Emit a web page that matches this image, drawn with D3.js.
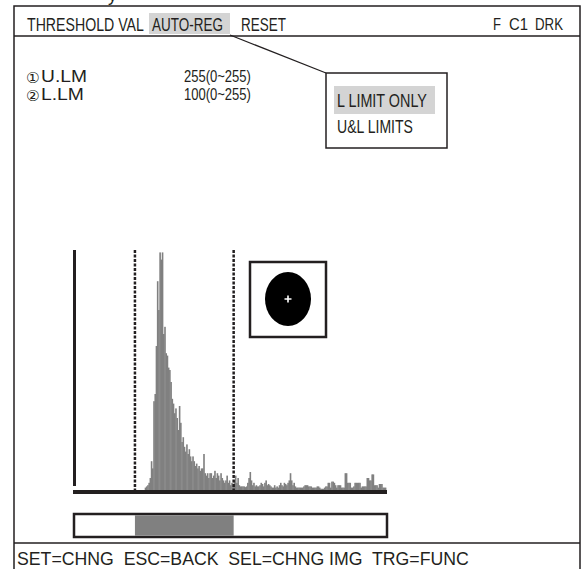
<!DOCTYPE html>
<html>
<head>
<meta charset="utf-8">
<script src="https://cdn.jsdelivr.net/npm/d3@7/dist/d3.min.js"></script>
<style>
html,body{margin:0;padding:0;background:#fff;}
svg{display:block;}
text{font-family:"Liberation Sans",Arial,sans-serif;fill:#231f20;white-space:pre;}
</style>
</head>
<body>
<svg id="chart" width="586" height="569"></svg>
<script>
// ---- data ----
const histStartLevel = 58;
const histCounts = [
  1, 1.5, 2, 3, 5, 12, 9, 37, 40, 60,
  87, 75, 99, 96, 99, 65, 68, 57, 56, 51,
  50, 45, 38, 36, 32, 34, 30, 25, 35, 28,
  20, 22, 18, 16, 19, 15, 17, 14, 12, 14,
  12, 10, 11, 9, 10, 8, 9, 9, 15, 7,
  6, 7, 5, 7, 7, 5, 6, 8, 5, 7,
  6, 4, 7, 5, 4, 3, 4, 6, 3, 4,
  2, 3, 2, 4, 6, 3, 5, 2, 1.5, 1.5,
  1.5, 1.5, 1.2, 1.5, 3, 5, 7.5, 4, 2, 3,
  1.5, 2, 1.5, 1.5, 2, 3, 2.5, 1.5, 3, 4,
  2, 2.5, 2, 1.5, 1, 1, 2, 1, 1.5, 1,
  2, 3, 2, 1.5, 3, 2.5, 2, 3, 4, 7,
  4, 2, 3, 1.5, 1, 1, 1, 1, 1, 1,
  1.5, 2, 2, 2, 1.5, 1.5, 1.5, 1, 1, 1,
  1, 1.5, 1.5, 1, 0.5, 0.5, 0.5, 1, 1.5, 1.5,
  3, 3, 1, 3.5, 3.5, 3, 2, 1, 2, 2,
  2, 1, 1, 1, 7, 7, 3, 3, 3, 1,
  1, 1.5, 3, 3, 3, 3, 3, 1, 1.5, 1.5,
  1.5, 1.5, 5, 5, 4, 4, 6.5, 6.5, 2, 2,
  2, 1, 2.5, 2.5, 2.5, 1, 1, 1
];
const thresholdLevels = [50, 131];
const menuItems = ["THRESHOLD VAL", "AUTO-REG", "RESET"];
const statusItems = ["F", "C1", "DRK"];
const paramMarks = ["\u2460", "\u2461"];
const paramLabels = ["U.LM", "L.LM"];
const paramValues = ["255(0~255)", "100(0~255)"];
const popupItems = ["L LIMIT ONLY", "U&L LIMITS"];
const footerText = "SET=CHNG  ESC=BACK  SEL=CHNG IMG  TRG=FUNC";

// ---- drawing ----
const svg = d3.select("#chart");
const ink = "#231f20";
const gray = "#808080";
const light = "#d4d4d4";

// place a text and squeeze it horizontally to a target width
function fitText(str, px, py, w, size, cls) {
  const t = svg.append("text").attr("class", cls || null).attr("font-size", size).text(str);
  const nat = t.node().getComputedTextLength();
  const s = nat > 0 ? w / nat : 1;
  t.attr("transform", `translate(${px},${py}) scale(${s},1)`);
  return t;
}

// cut-off caption fragment above the frame
svg.append("text").attr("x", 108).attr("y", 1).attr("font-size", 18).text("y");

// frame
svg.append("rect").attr("x", 14).attr("y", 6).attr("width", 566).attr("height", 580)
  .attr("fill", "none").attr("stroke", ink).attr("stroke-width", 1.5);
svg.append("line").attr("x1", 14).attr("x2", 580).attr("y1", 36).attr("y2", 36)
  .attr("stroke", ink).attr("stroke-width", 1.5);
svg.append("line").attr("x1", 14).attr("x2", 580).attr("y1", 543).attr("y2", 543)
  .attr("stroke", ink).attr("stroke-width", 1.5);

// header menu
svg.append("rect").attr("x", 149).attr("y", 13).attr("width", 81).attr("height", 21).attr("fill", light);
const menuPos = [[27, 117], [152, 71], [241, 45]];
menuItems.forEach((d, i) => fitText(d, menuPos[i][0], 31, menuPos[i][1], 17.5));
const statusPos = [[493, 8], [509, 19], [535, 28]];
statusItems.forEach((d, i) => fitText(d, statusPos[i][0], 29.5, statusPos[i][1], 17));

// parameters
svg.selectAll("text.pmark").data(paramMarks).join("text").attr("class", "pmark")
  .attr("x", 26).attr("y", (d, i) => 82.5 + i * 18)
  .style("font-family", "'DejaVu Sans','Noto Sans CJK JP',sans-serif")
  .attr("font-size", 15.3).text(d => d);
paramLabels.forEach((d, i) => fitText(d, 41, 82 + i * 18, i === 0 ? 46 : 43, 17));
paramValues.forEach((d, i) => fitText(d, 184, 82 + i * 18, 67, 17));

// popup
svg.append("line").attr("x1", 230).attr("y1", 35).attr("x2", 326).attr("y2", 73)
  .attr("stroke", ink).attr("stroke-width", 1.2);
svg.append("rect").attr("x", 326).attr("y", 73).attr("width", 121).attr("height", 75)
  .attr("fill", "#fff").attr("stroke", ink).attr("stroke-width", 1.5);
svg.append("rect").attr("x", 334).attr("y", 86).attr("width", 101).attr("height", 28).attr("fill", light);
popupItems.forEach((d, i) => fitText(d, 337, 107 + i * 26, i === 0 ? 90 : 76, 18.5));

// histogram
const x = d3.scaleLinear().domain([0, 256]).range([74, 386]);
const y = d3.scaleLinear().domain([0, 100]).range([490, 250]);
const bins = histCounts.map((v, i) => ({level: histStartLevel + i, v}));
svg.append("g").selectAll("rect").data(bins).join("rect")
  .attr("x", d => x(d.level)).attr("width", d => x(d.level + 1) - x(d.level) + 0.4)
  .attr("y", d => y(d.v)).attr("height", d => y(0) - y(d.v))
  .attr("fill", gray);

// axes bars
svg.append("rect").attr("x", 73).attr("y", 250).attr("width", 3).attr("height", 236).attr("fill", ink);
svg.append("rect").attr("x", 73).attr("y", 490).attr("width", 314).attr("height", 4).attr("fill", ink);

// threshold dashed lines
svg.selectAll("line.th").data(thresholdLevels).join("line").attr("class", "th")
  .attr("x1", d => x(d)).attr("x2", d => x(d)).attr("y1", 250).attr("y2", 490)
  .attr("stroke", ink).attr("stroke-width", 2.5).attr("stroke-dasharray", "3,1.5");

// image preview
svg.append("rect").attr("x", 250).attr("y", 262).attr("width", 76).attr("height", 75)
  .attr("fill", "#fff").attr("stroke", ink).attr("stroke-width", 2.5);
svg.append("ellipse").attr("cx", 288).attr("cy", 299).attr("rx", 23).attr("ry", 27).attr("fill", "#000");
svg.append("path").attr("d", "M284.5,299H291.5M288,295.5V302.5").attr("stroke", "#fff").attr("stroke-width", 1.6);

// range bar
svg.append("rect").attr("x", 74).attr("y", 514).attr("width", 313).attr("height", 23)
  .attr("fill", "#fff").attr("stroke", ink).attr("stroke-width", 2.5);
svg.append("rect").attr("x", x(thresholdLevels[0])).attr("y", 515.25)
  .attr("width", x(thresholdLevels[1]) - x(thresholdLevels[0])).attr("height", 20.5).attr("fill", gray);

// footer
fitText(footerText, 17, 565, 452, 18.5);
</script>
</body>
</html>
